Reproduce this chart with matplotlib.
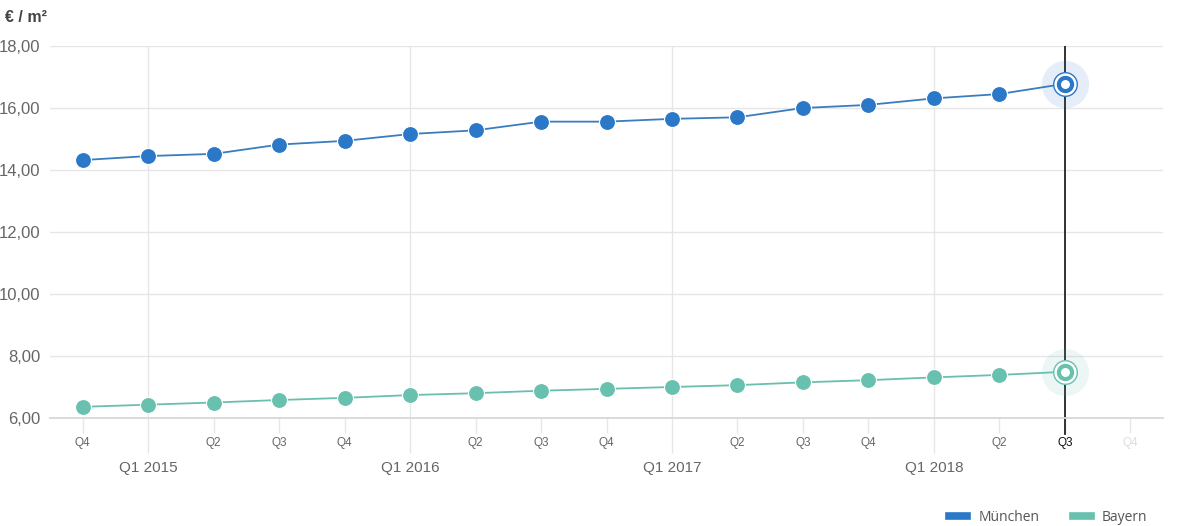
import numpy as np
import matplotlib.pyplot as plt
from matplotlib.lines import Line2D

quarters = ["Q4", "Q1 2015", "Q2", "Q3", "Q4", "Q1 2016", "Q2", "Q3", "Q4",
            "Q1 2017", "Q2", "Q3", "Q4", "Q1 2018", "Q2", "Q3", "Q4"]
muenchen = [14.32, 14.45, 14.52, 14.82, 14.94, 15.16, 15.28, 15.56, 15.56,
            15.65, 15.70, 16.00, 16.10, 16.31, 16.45, 16.78]
bayern = [6.36, 6.43, 6.50, 6.58, 6.65, 6.74, 6.80, 6.88, 6.94,
          7.00, 7.06, 7.15, 7.22, 7.31, 7.39, 7.49]

blue = "#2b78c8"
blue_line = "#3a7dbf"
teal = "#68c0ae"
grid = "#e6e6e6"

plt.rcParams['font.family'] = ['Liberation Sans', 'DejaVu Sans']

fig = plt.figure(figsize=(11.77, 5.26), dpi=100)
ax = fig.add_axes([50/1177, 1-418/526, (1163-50)/1177, (418-46)/526])

x = np.arange(len(muenchen))
sel = len(muenchen) - 1

ax.plot(x, muenchen, color=blue_line, lw=1.3, zorder=3)
ax.plot(x[:-1], muenchen[:-1], 'o', color=blue, ms=11.5, mec='white', mew=0.8, zorder=4)
ax.plot(x, bayern, color=teal, lw=1.3, zorder=3)
ax.plot(x[:-1], bayern[:-1], 'o', color=teal, ms=11.5, mec='white', mew=0.8, zorder=4)

# hovered point
ax.axvline(sel, ymin=0, ymax=1, color="#222222", lw=1.3, zorder=2)
ax.plot([sel, sel], [6.0, 5.5], color="#222222", lw=1.3, clip_on=False, zorder=2)
for vals, c in [(muenchen, blue), (bayern, teal)]:
    ax.plot(sel, vals[sel], 'o', color=c, alpha=0.12, ms=34, mew=0, zorder=5)
    ax.plot(sel, vals[sel], 'o', mfc='white', mec=c, ms=17, mew=1, zorder=6)
    ax.plot(sel, vals[sel], 'o', mfc='white', mec=c, ms=9.5, mew=3, zorder=7)

ax.set_xlim(-0.5, 16.5)
ax.set_ylim(6, 18)
ax.set_yticks(np.arange(6, 19, 2))
ax.set_yticklabels([f"{v:.2f}".replace(".", ",") for v in np.arange(6, 19, 2)],
                   fontsize=12, color="#666666")
ax.tick_params(axis='y', length=0, pad=7)
ax.grid(axis='y', color=grid, lw=1)
ax.set_axisbelow(True)

major = [i for i, q in enumerate(quarters) if " " in q]
minor = [i for i, q in enumerate(quarters) if " " not in q]
ax.set_xticks(major)
ax.set_xticklabels([quarters[i] for i in major], fontsize=11, color="#666666")
ax.set_xticks(minor, minor=True)
ax.set_xticklabels([quarters[i] for i in minor], minor=True, fontsize=8.5, color="#666666")
ax.tick_params(axis='x', which='major', length=25, color=grid, width=1, pad=6)
ax.tick_params(axis='x', which='minor', length=11, color=grid, width=1, pad=3)
for lbl, i in zip(ax.get_xticklabels(minor=True), minor):
    if i == sel:
        lbl.set_color("#111111")
    elif i > sel:
        lbl.set_color("#dddddd")
for i in major:
    ax.axvline(i, color=grid, lw=1, zorder=0)

for s in ['top', 'right', 'left']:
    ax.spines[s].set_visible(False)
ax.spines['bottom'].set_color("#d8d8d8")
ax.spines['bottom'].set_linewidth(1.3)

fig.text(5/1177, 1-18/526, "€ / m²", fontsize=11.5, fontweight='bold',
         color="#444444", va='center', ha='left')

handles = [Line2D([], [], color=blue, lw=5.5), Line2D([], [], color=teal, lw=5.5)]
fig.legend(handles, ["München", "Bayern"], ncol=2, loc='lower right',
           bbox_to_anchor=(1160/1177, -0.022), frameon=False,
           handlelength=1.3, handletextpad=0.8, columnspacing=2.4,
           labelcolor="#555555", prop={'family': ['Open Sans', 'DejaVu Sans'], 'size': 10})

fig.savefig("out.png", dpi=100, facecolor='white')
